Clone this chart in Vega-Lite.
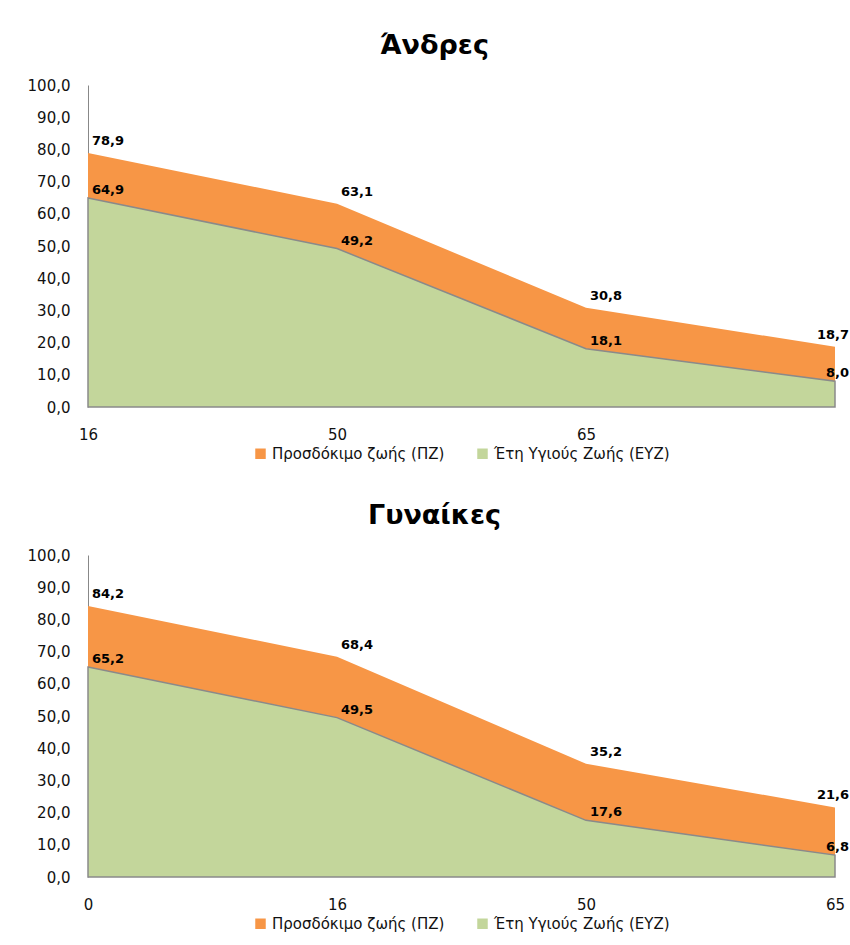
{
  "$schema": "https://vega.github.io/schema/vega-lite/v6.json",
  "padding": {"left": 27, "top": 32, "right": 0, "bottom": 0},
  "background": "white",
  "config": {
    "locale": {"number": {"decimal": ",", "thousands": ".", "grouping": [3], "currency": ["", " €"]}},
    "font": "DejaVu Sans",
    "view": {"stroke": null},
    "axis": {"labelFont": "DejaVu Sans", "labelFontSize": 15, "labelColor": "#111111", "ticks": false, "grid": false, "title": null},
    "legend": {"orient": "bottom", "direction": "horizontal", "title": null, "symbolType": "square", "symbolSize": 110, "labelFont": "DejaVu Sans", "labelFontSize": 15, "labelColor": "#111111", "labelLimit": 0, "columnPadding": 30, "offset": 4, "layout": {"bottom": {"anchor": "middle"}}},
    "title": {"font": "DejaVu Sans", "fontSize": 27, "fontWeight": "bold", "color": "#000000", "anchor": "middle", "offset": 18, "dx": -27}
  },
  "datasets": {
    "men": [
      {"age": "16", "pos": 0, "series": "Προσδόκιμο ζωής (ΠΖ)", "years": 78.9},
      {"age": "50", "pos": 1, "series": "Προσδόκιμο ζωής (ΠΖ)", "years": 63.1},
      {"age": "65", "pos": 2, "series": "Προσδόκιμο ζωής (ΠΖ)", "years": 30.8},
      {"age": "", "pos": 3, "series": "Προσδόκιμο ζωής (ΠΖ)", "years": 18.7},
      {"age": "16", "pos": 0, "series": "Έτη Υγιούς Ζωής (ΕΥΖ)", "years": 64.9},
      {"age": "50", "pos": 1, "series": "Έτη Υγιούς Ζωής (ΕΥΖ)", "years": 49.2},
      {"age": "65", "pos": 2, "series": "Έτη Υγιούς Ζωής (ΕΥΖ)", "years": 18.1},
      {"age": "", "pos": 3, "series": "Έτη Υγιούς Ζωής (ΕΥΖ)", "years": 8.0}
    ],
    "women": [
      {"age": "0", "pos": 0, "series": "Προσδόκιμο ζωής (ΠΖ)", "years": 84.2},
      {"age": "16", "pos": 1, "series": "Προσδόκιμο ζωής (ΠΖ)", "years": 68.4},
      {"age": "50", "pos": 2, "series": "Προσδόκιμο ζωής (ΠΖ)", "years": 35.2},
      {"age": "65", "pos": 3, "series": "Προσδόκιμο ζωής (ΠΖ)", "years": 21.6},
      {"age": "0", "pos": 0, "series": "Έτη Υγιούς Ζωής (ΕΥΖ)", "years": 65.2},
      {"age": "16", "pos": 1, "series": "Έτη Υγιούς Ζωής (ΕΥΖ)", "years": 49.5},
      {"age": "50", "pos": 2, "series": "Έτη Υγιούς Ζωής (ΕΥΖ)", "years": 17.6},
      {"age": "65", "pos": 3, "series": "Έτη Υγιούς Ζωής (ΕΥΖ)", "years": 6.8}
    ]
  },
  "spacing": 40,
  "resolve": {"scale": {"color": "independent"}, "legend": {"color": "independent"}},
  "vconcat": [
    {
      "title": "Άνδρες",
      "width": 747,
      "height": 322,
      "data": {"name": "men"},
      "encoding": {
        "x": {"field": "age", "type": "ordinal", "sort": ["16", "50", "65", ""], "scale": {"type": "point", "padding": 0}, "axis": {"labelAngle": 0, "domain": false, "labelPadding": 20}},
        "y": {"field": "years", "type": "quantitative", "stack": null, "scale": {"domain": [0, 100]}, "axis": {"format": ".1f", "values": [0, 10, 20, 30, 40, 50, 60, 70, 80, 90, 100], "domain": true, "domainColor": "#888888", "labelPadding": 18}}
      },
      "layer": [
        {
          "transform": [{"filter": "datum.series == 'Προσδόκιμο ζωής (ΠΖ)'"}],
          "mark": {"type": "area", "opacity": 1},
          "encoding": {"color": {"field": "series", "type": "nominal", "scale": {"domain": ["Προσδόκιμο ζωής (ΠΖ)", "Έτη Υγιούς Ζωής (ΕΥΖ)"], "range": ["#F79646", "#C3D69B"]}}}
        },
        {
          "transform": [{"filter": "datum.series == 'Έτη Υγιούς Ζωής (ΕΥΖ)'"}],
          "mark": {"type": "area", "opacity": 1, "stroke": "#8a8a8a", "strokeWidth": 1.5},
          "encoding": {"color": {"field": "series", "type": "nominal", "scale": {"domain": ["Προσδόκιμο ζωής (ΠΖ)", "Έτη Υγιούς Ζωής (ΕΥΖ)"], "range": ["#F79646", "#C3D69B"]}}}
        },
        {
          "mark": {"type": "text", "fontWeight": "bold", "fontSize": 13, "color": "#000000", "align": {"expr": "datum.pos == 3 ? 'right' : 'left'"}, "dx": {"expr": "datum.pos == 3 ? 14 : 4"}, "dy": {"expr": "datum.series == 'Προσδόκιμο ζωής (ΠΖ)' ? -12 : -8"}},
          "encoding": {"text": {"field": "years", "type": "quantitative", "format": ".1f"}}
        }
      ]
    },
    {
      "title": "Γυναίκες",
      "width": 747,
      "height": 322,
      "data": {"name": "women"},
      "encoding": {
        "x": {"field": "age", "type": "ordinal", "sort": ["0", "16", "50", "65"], "scale": {"type": "point", "padding": 0}, "axis": {"labelAngle": 0, "domain": false, "labelPadding": 20}},
        "y": {"field": "years", "type": "quantitative", "stack": null, "scale": {"domain": [0, 100]}, "axis": {"format": ".1f", "values": [0, 10, 20, 30, 40, 50, 60, 70, 80, 90, 100], "domain": true, "domainColor": "#888888", "labelPadding": 18}}
      },
      "layer": [
        {
          "transform": [{"filter": "datum.series == 'Προσδόκιμο ζωής (ΠΖ)'"}],
          "mark": {"type": "area", "opacity": 1},
          "encoding": {"color": {"field": "series", "type": "nominal", "scale": {"domain": ["Προσδόκιμο ζωής (ΠΖ)", "Έτη Υγιούς Ζωής (ΕΥΖ)"], "range": ["#F79646", "#C3D69B"]}}}
        },
        {
          "transform": [{"filter": "datum.series == 'Έτη Υγιούς Ζωής (ΕΥΖ)'"}],
          "mark": {"type": "area", "opacity": 1, "stroke": "#8a8a8a", "strokeWidth": 1.5},
          "encoding": {"color": {"field": "series", "type": "nominal", "scale": {"domain": ["Προσδόκιμο ζωής (ΠΖ)", "Έτη Υγιούς Ζωής (ΕΥΖ)"], "range": ["#F79646", "#C3D69B"]}}}
        },
        {
          "mark": {"type": "text", "fontWeight": "bold", "fontSize": 13, "color": "#000000", "align": {"expr": "datum.pos == 3 ? 'right' : 'left'"}, "dx": {"expr": "datum.pos == 3 ? 14 : 4"}, "dy": {"expr": "datum.series == 'Προσδόκιμο ζωής (ΠΖ)' ? -12 : -8"}},
          "encoding": {"text": {"field": "years", "type": "quantitative", "format": ".1f"}}
        }
      ]
    }
  ]
}
